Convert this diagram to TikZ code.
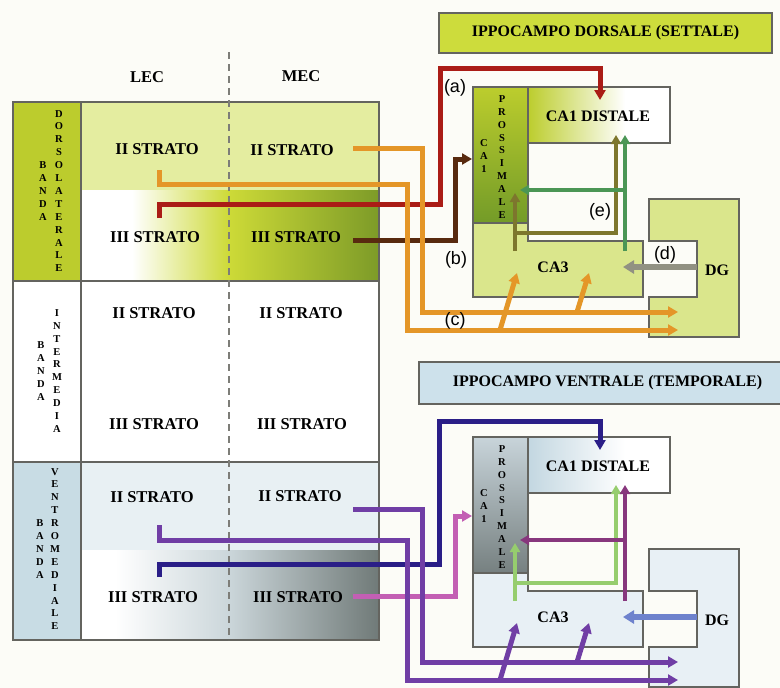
\documentclass[tikz,border=0pt]{standalone}
\usepackage{fontspec}
\setmainfont{Liberation Serif}
\newfontfamily\labfont{Liberation Sans}
\usepackage{tikz}
\usetikzlibrary{arrows.meta, calc}
\definecolor{PaperWhite}{RGB}{252,252,247}
\definecolor{RuleGray}{RGB}{100,100,95}
\definecolor{DashGray}{RGB}{125,125,120}
\definecolor{DorsBand}{RGB}{188,204,45}
\definecolor{DorsLight}{RGB}{228,237,160}
\definecolor{DorsMid}{RGB}{205,218,55}
\definecolor{DorsDark}{RGB}{125,155,40}
\definecolor{DorsHead}{RGB}{205,220,60}
\definecolor{DorsCAthree}{RGB}{218,230,140}
\definecolor{DorsProxTop}{RGB}{188,205,45}
\definecolor{DorsProxBot}{RGB}{115,155,40}
\definecolor{VentBand}{RGB}{200,220,228}
\definecolor{VentLight}{RGB}{232,240,243}
\definecolor{VentMid}{RGB}{203,214,218}
\definecolor{VentDark}{RGB}{112,122,120}
\definecolor{VentHead}{RGB}{205,225,235}
\definecolor{VentCAthree}{RGB}{232,240,245}
\definecolor{VentProxTop}{RGB}{200,212,218}
\definecolor{VentProxBot}{RGB}{118,128,128}
\definecolor{VentDist}{RGB}{195,215,225}
\definecolor{WireOrange}{RGB}{228,150,40}
\definecolor{WireRed}{RGB}{170,28,22}
\definecolor{WireBrown}{RGB}{88,42,15}
\definecolor{WireOlive}{RGB}{125,118,45}
\definecolor{WireGreen}{RGB}{75,150,85}
\definecolor{WireGray}{RGB}{145,145,130}
\definecolor{WirePurple}{RGB}{112,62,165}
\definecolor{WireNavy}{RGB}{42,30,135}
\definecolor{WirePink}{RGB}{195,95,180}
\definecolor{WireLime}{RGB}{150,205,110}
\definecolor{WirePlum}{RGB}{135,55,125}
\definecolor{WireBlue}{RGB}{110,130,205}

\begin{document}
\begin{tikzpicture}[x=1pt, y=-1pt,
    strato/.style={font=\fontsize{16.5}{18}\selectfont\bfseries, inner sep=1pt},
    ca/.style={font=\fontsize{16}{18}\selectfont\bfseries, inner sep=1pt},
    headbox/.style={draw=RuleGray, line width=1.2pt, inner sep=0pt,
                    font=\fontsize{16}{18}\selectfont\bfseries},
    vword/.style={font=\fontsize{10.5}{12.9}\selectfont\bfseries, align=center, inner sep=0pt},
    tag/.style={font=\labfont\fontsize{18}{20}\selectfont, inner sep=0pt},
    rule/.style={draw=RuleGray, line width=1.4pt},
    region/.style={draw=RuleGray, line width=1.2pt},
    wire/.style={line width=5pt, -{Triangle[length=10pt,width=11pt]}},
    link/.style={line width=4pt, -{Triangle[length=9pt,width=10pt]}},
    feed/.style={line width=6pt, -{Triangle[length=11pt,width=13pt]}}]

  \fill[PaperWhite] (0,0) rectangle (780,688);
  \useasboundingbox (0,0) rectangle (780,688);

  % entorhinal table
  \fill[DorsBand] (13,102) rectangle (81,281);
  \fill[DorsLight] (81,102) rectangle (379,190);
  \fill[white] (81,190) rectangle (132,281);
  \shade[left color=white, right color=DorsMid] (132,190) rectangle (229,281);
  \shade[left color=DorsMid, right color=DorsDark] (229,190) rectangle (379,281);
  \fill[white] (13,281) rectangle (379,462);
  \fill[VentBand] (13,462) rectangle (81,640);
  \fill[VentLight] (81,462) rectangle (379,550);
  \fill[white] (81,550) rectangle (115,640);
  \shade[left color=white, right color=VentMid] (115,550) rectangle (229,640);
  \shade[left color=VentMid, right color=VentDark] (229,550) rectangle (379,640);

  \draw[rule] (13,102) rectangle (379,640);
  \draw[rule] (13,281) -- (379,281) (13,462) -- (379,462) (81,102) -- (81,640);
  \draw[DashGray, line width=1.3pt, dash pattern=on 7pt off 5pt] (229,52) -- (229,640);

  \node[strato] (lec) at (147,77) {LEC};
  \node[strato] (mec) at (301,76) {MEC};

  \node[strato] (dLii) at (157,149) {II STRATO};
  \node[strato] (dMii) at (292,150) {II STRATO};
  \node[strato] (dLiii) at (155,237) {III STRATO};
  \node[strato] (dMiii) at (296,237) {III STRATO};
  \node[strato] (iLii) at (154,313) {II STRATO};
  \node[strato] (iMii) at (301,313) {II STRATO};
  \node[strato] (iLiii) at (154,424) {III STRATO};
  \node[strato] (iMiii) at (302,424) {III STRATO};
  \node[strato] (vLii) at (152,497) {II STRATO};
  \node[strato] (vMii) at (300,496) {II STRATO};
  \node[strato] (vLiii) at (153,597) {III STRATO};
  \node[strato] (vMiii) at (298,597) {III STRATO};

  \node[vword] (dBanda) at (43,191) {B\\A\\N\\D\\A};
  \node[vword] (dName) at (59,191) {D\\O\\R\\S\\O\\L\\A\\T\\E\\R\\A\\L\\E};
  \node[vword] (iBanda) at (41,371) {B\\A\\N\\D\\A};
  \node[vword] (iName) at (57,371) {I\\N\\T\\E\\R\\M\\E\\D\\I\\A};
  \node[vword] (vBanda) at (40,549) {B\\A\\N\\D\\A};
  \node[vword] (vName) at (55,549) {V\\E\\N\\T\\R\\O\\M\\E\\D\\I\\A\\L\\E};

  % hippocampus headers
  \node[headbox, fill=DorsHead, minimum width=333pt, minimum height=40pt]
        (dHead) at (605.5,33) {IPPOCAMPO DORSALE (SETTALE)};
  \node[headbox, fill=VentHead, minimum width=377pt, minimum height=42pt]
        (vHead) at (607.5,383) {IPPOCAMPO VENTRALE (TEMPORALE)};

  % the two hippocampi share one layout
  \foreach \dy/\pre/\cthree/\ptop/\pbot/\cdist/\la/\lb/\lc/\ld in
     {0/d/DorsCAthree/DorsProxTop/DorsProxBot/DorsProxTop/WireOlive/WireGreen/WireGray/WireOrange,
      350/v/VentCAthree/VentProxTop/VentProxBot/VentDist/WireLime/WirePlum/WireBlue/WirePurple}
  {
    \begin{scope}[shift={(0,\dy)}]
      \fill[\cthree] (473,223) -- (528,223) -- (528,241) -- (643,241)
            -- (643,297) -- (473,297) -- cycle;
      \draw[region] (473,223) -- (473,297) -- (643,297) -- (643,241)
            -- (528,241) -- (528,223);
      \filldraw[region, fill=\cthree] (649,199) -- (739,199) -- (739,337) -- (649,337)
            -- (649,297) -- (697,297) -- (697,241) -- (649,241) -- cycle;
      \shade[top color=\ptop, bottom color=\pbot] (473,87) rectangle (528,223);
      \shade[left color=\cdist, right color=white] (528,87) rectangle (625,143);
      \fill[white] (625,87) rectangle (670,143);
      \draw[region] (473,87) rectangle (528,223);
      \draw[region] (528,87) rectangle (670,143);

      \node[ca] (\pre Dist) at (598,116) {CA1 DISTALE};
      \node[ca] (\pre CAthree) at (553,267) {CA3};
      \node[ca] (\pre DG) at (717,270) {DG};
      \node[vword] (\pre ProxA) at (484,156) {C\\A\\1};
      \node[vword] (\pre ProxB) at (502,157) {P\\R\\O\\S\\S\\I\\M\\A\\L\\E};

      \coordinate (\pre sOl) at (515,251);
      \coordinate (\pre tOlP) at (515,193);
      \coordinate (\pre bOl) at (515,233);
      \coordinate (\pre tOlD) at (616,135);
      \coordinate (\pre sGr) at (625,251);
      \coordinate (\pre tGrD) at (625,135);
      \coordinate (\pre bGr) at (625,190);
      \coordinate (\pre tGrP) at (520,190);
      \coordinate (\pre sDG) at (697,267);
      \coordinate (\pre tDG) at (623,267);
      \coordinate (\pre sDa) at (500,330);
      \coordinate (\pre tDa) at (517,273);
      \coordinate (\pre sDb) at (577,312);
      \coordinate (\pre tDb) at (589,273);

      \draw[link, \la] (\pre sOl) -- (\pre tOlP);
      \draw[link, \la] (\pre bOl) -| (\pre tOlD);
      \draw[link, \lb] (\pre sGr) -- (\pre tGrD);
      \draw[link, \lb] (\pre bGr) -- (\pre tGrP);
      \draw[feed, \lc] (\pre sDG) -- (\pre tDG);
      \draw[wire, \ld] (\pre sDa) -- (\pre tDa);
      \draw[wire, \ld] (\pre sDb) -- (\pre tDb);
    \end{scope}
  }

  % dorsal projections
  \coordinate (dsMii) at (353,148);
  \coordinate (dsLii) at (159,170);
  \coordinate (dsLiii) at (159,218);
  \coordinate (dsMiii) at (353,240);
  \coordinate (dtDist) at (600,100);
  \coordinate (dtProx) at (472,159);
  \coordinate (dtDGup) at (678,312);
  \coordinate (dtDGlo) at (678,330);
  \draw[wire, WireRed] (dsLiii) |- (440,204) |- (600,68) -- (dtDist);
  \draw[wire, WireBrown] (dsMiii) -| (455,159) -- (dtProx);
  \draw[wire, WireOrange] (dsMii) -| (422,312) -- (dtDGup);
  \draw[wire, WireOrange] (dsLii) |- (407,184) |- (dtDGlo);

  % ventral projections
  \coordinate (vsMii) at (353,509);
  \coordinate (vsLii) at (159,525);
  \coordinate (vsLiii) at (159,577);
  \coordinate (vsMiii) at (353,596);
  \coordinate (vtDist) at (600,450);
  \coordinate (vtProx) at (472,516);
  \coordinate (vtDGup) at (678,662);
  \coordinate (vtDGlo) at (678,680);
  \draw[wire, WireNavy] (vsLiii) |- (439,564) |- (600,421) -- (vtDist);
  \draw[wire, WirePink] (vsMiii) -| (455,516) -- (vtProx);
  \draw[wire, WirePurple] (vsMii) -| (422,662) -- (vtDGup);
  \draw[wire, WirePurple] (vsLii) |- (407,540) |- (vtDGlo);

  \node[tag] (tagA) at (455,88) {(a)};
  \node[tag] (tagB) at (456,260) {(b)};
  \node[tag] (tagC) at (455,321) {(c)};
  \node[tag] (tagD) at (665,255) {(d)};
  \node[tag] (tagE) at (600,212) {(e)};
\end{tikzpicture}
\end{document}
